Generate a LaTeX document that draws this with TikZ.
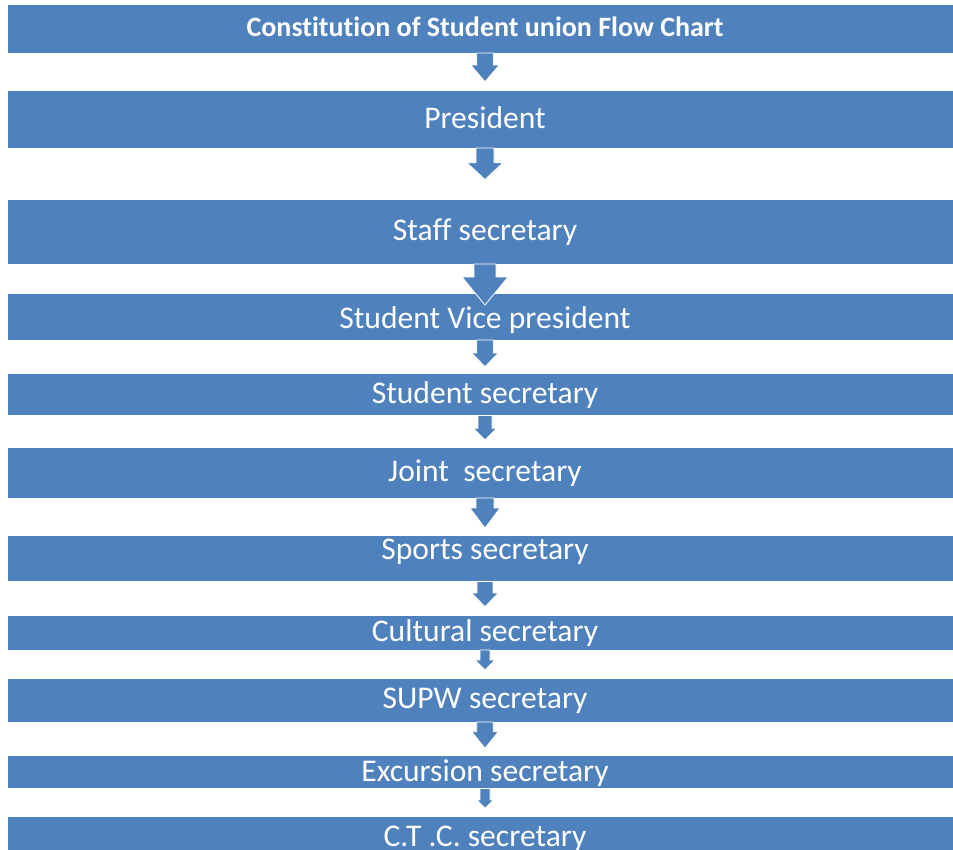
\documentclass[tikz,border=0pt]{standalone}
\usepackage{fontspec}
\setmainfont{Carlito}[Ligatures={NoCommon}]
\usetikzlibrary{calc}
\definecolor{blockblue}{RGB}{79,129,189}

% Block arrow from the bottom of box #1 towards box #2.
% #3 stem half-width, #4 head half-width, #5 head length,
% #6 tip offset below the top of box #2 (negative = above it).
\newcommand\blockarrow[6]{%
  \path[flowarrow] let \p1=(#1.south), \p2=($(#2.north)+(0,#6)$) in
    (\x1-#3pt,\y1) -- (\x1-#3pt,\y2+#5pt) -- (\x1-#4pt,\y2+#5pt) -- (\x1,\y2)
    -- (\x1+#4pt,\y2+#5pt) -- (\x1+#3pt,\y2+#5pt) -- (\x1+#3pt,\y1) -- cycle;}

\begin{document}
\begin{tikzpicture}[x=1pt,y=-1pt,
  stage/.style={fill=blockblue, draw=white, line width=0.6pt,
    minimum width=956pt, inner sep=0pt, outer sep=0pt},
  stagetext/.style={text=white, anchor=base, inner sep=0pt,
    font=\fontsize{31.6}{38}\selectfont},
  titletext/.style={stagetext, font=\bfseries\fontsize{28}{34}\selectfont},
  flowarrow/.style={fill=blockblue, draw=white, line width=0.8pt, line join=miter}]
\useasboundingbox (0,0) rectangle (953,849);

% boxes
\node[stage, minimum height=49pt]   (b1)  at (485,28.5)   {};
\node[stage, minimum height=58pt]   (b2)  at (485,119)    {};
\node[stage, minimum height=64.5pt] (b3)  at (485,231.75) {};
\node[stage, minimum height=46.5pt] (b4)  at (485,316.75) {};
\node[stage, minimum height=42.5pt] (b5)  at (485,394.25) {};
\node[stage, minimum height=51pt]   (b6)  at (485,472.5)  {};
\node[stage, minimum height=46.5pt] (b7)  at (485,558.25) {};
\node[stage, minimum height=35pt]   (b8)  at (485,632.5)  {};
\node[stage, minimum height=44pt]   (b9)  at (485,700)    {};
\node[stage, minimum height=33.5pt] (b10) at (485,771.75) {};
\node[stage, minimum height=42pt]   (b11) at (485,837)    {};

% arrows between boxes
\blockarrow{b1}{b2}{8.3}{14.3}{16.7}{-8.3}
\blockarrow{b2}{b3}{9}{18}{16.7}{-20}
\blockarrow{b3}{b4}{11}{23}{28}{11.5}
\blockarrow{b4}{b5}{8.3}{13.3}{13.7}{-6.3}
\blockarrow{b5}{b6}{7}{11.7}{11.7}{-7}
\blockarrow{b6}{b7}{9}{15}{20}{-7}
\blockarrow{b7}{b8}{8}{13.3}{13.7}{-8.3}
\blockarrow{b8}{b9}{5}{10}{10}{-8}
\blockarrow{b9}{b10}{8.3}{13.3}{16.6}{-6.7}
\blockarrow{b10}{b11}{5}{8.3}{8.3}{-7.7}

% labels
\node[titletext] (t1)  at (485,36.5)  {Constitution of Student union Flow Chart};
\node[stagetext] (t2)  at (485,128.3) {President};
\node[stagetext] (t3)  at (485,240.7) {Staff secretary};
\node[stagetext] (t4)  at (485,328)   {Student Vice president};
\node[stagetext] (t5)  at (485,403.3) {Student secretary};
\node[stagetext] (t6)  at (485,481.7) {Joint\ \ secretary};
\node[stagetext] (t7)  at (485,559.5) {Sports secretary};
\node[stagetext] (t8)  at (485,641.7) {Cultural secretary};
\node[stagetext] (t9)  at (485,708.3) {SUPW secretary};
\node[stagetext] (t10) at (485,781.7) {Excursion secretary};
\node[stagetext] (t11) at (485,846.7) {C.T .C. secretary};
\end{tikzpicture}
\end{document}
